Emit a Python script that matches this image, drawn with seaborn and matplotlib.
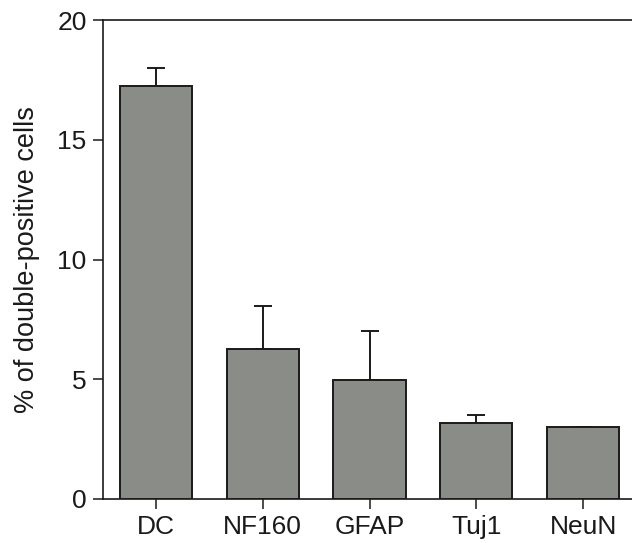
import matplotlib
matplotlib.use("Agg")
import matplotlib.pyplot as plt
import seaborn as sns
import pandas as pd

categories = ["DC", "NF160", "GFAP", "Tuj1", "NeuN"]
values = [17.25, 6.27, 4.98, 3.18, 3.02]
errors = [0.75, 1.80, 2.02, 0.33, 0.0]
yticks = [0, 5, 10, 15, 20]

sns.set_theme(style="white")
plt.rcParams['font.family'] = ['Liberation Sans', 'DejaVu Sans']

df = pd.DataFrame({"cat": categories, "val": values})

fig = plt.figure(figsize=(6.32, 5.43), dpi=100)
ax = fig.add_axes([102.5/632, 44/543, 534/632, 479/543])

sns.barplot(data=df, x="cat", y="val", order=categories, color="#8a8c88",
            saturation=1, width=0.675, edgecolor="#1a1a1a", linewidth=1.4,
            errorbar=None, ax=ax, zorder=3)
ax.errorbar(range(len(categories)), values,
            yerr=[[0]*len(errors), errors], fmt="none", ecolor="#1a1a1a",
            elinewidth=1.4, capsize=6.5, capthick=1.4, zorder=2)

ax.set_xlim(-0.5, 4.5)
ax.set_ylim(0, 20)
ax.set_yticks(yticks)
ax.set_xlabel("")
ax.set_ylabel("% of double-positive cells", fontsize=19.5, color="#1a1a1a", labelpad=12)
ax.tick_params(axis="both", which="both", direction="out", length=7.5, width=1.1,
               color="#1a1a1a", labelsize=19, labelcolor="#1a1a1a", pad=4,
               left=True, bottom=True)
ax.tick_params(axis="x", length=7.5, pad=4)
for s in ["left", "top", "bottom"]:
    ax.spines[s].set_visible(True)
    ax.spines[s].set_color("#1a1a1a")
    ax.spines[s].set_linewidth(1.2)
ax.spines["right"].set_visible(False)
ax.grid(False)

fig.savefig("out.png", dpi=100)
